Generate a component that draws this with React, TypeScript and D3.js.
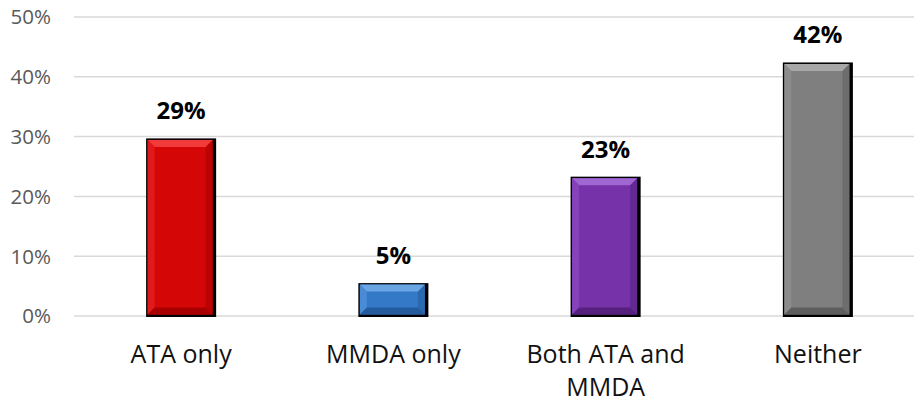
import React from "react";
import * as d3 from "d3";

const WIDTH = 914;
const HEIGHT = 403;

const categories = ["ATA only", "MMDA only", "Both ATA and MMDA", "Neither"];
const categoryLines = [["ATA only"], ["MMDA only"], ["Both ATA and", "MMDA"], ["Neither"]];
const values = [29.7, 5.5, 23.3, 42.4];
const valueLabels = ["29%", "5%", "23%", "42%"];
const ticks = [0, 10, 20, 30, 40, 50];

// main / light bevel / dark bevel
const palettes = [
  { main: "#d40606", light: "#f23a3a", side: "#e01a1a", dark: "#a80000" },
  { main: "#3479c8", light: "#6aa6e4", side: "#4a8bd6", dark: "#235b9c" },
  { main: "#7632a8", light: "#a066d2", side: "#8642bb", dark: "#56207f" },
  { main: "#7f7f7f", light: "#a8a8a8", side: "#8c8c8c", dark: "#5e5e5e" },
];

const FONT = "'Open Sans', 'DejaVu Sans', sans-serif";

function Bar({ x0, x1, y0, y1, pal }) {
  const b = 7;
  const l = x0 + 1.5;
  const r = x1 - 3.5;
  const t = y0 + 1.5;
  const bo = y1 - 2.5;
  return (
    <g>
      <rect x={x0} y={y0} width={x1 - x0} height={y1 - y0} fill="#000" />
      <rect x={l} y={t} width={r - l} height={bo - t} fill={pal.main} />
      <polygon points={`${l},${t} ${r},${t} ${r - b},${t + b} ${l + b},${t + b}`} fill={pal.light} />
      <polygon points={`${l},${t} ${l + b},${t + b} ${l + b},${bo - b} ${l},${bo}`} fill={pal.side} />
      <polygon points={`${r},${t} ${r},${bo} ${r - b},${bo - b} ${r - b},${t + b}`} fill={pal.dark} opacity={0.55} />
      <polygon points={`${l},${bo} ${l + b},${bo - b} ${r - b},${bo - b} ${r},${bo}`} fill={pal.dark} />
    </g>
  );
}

export default function App() {
  const x = d3.scaleBand().domain(categories).range([75, 924]).padding(0);
  const y = d3.scaleLinear().domain([0, 50]).range([316, 17]);
  const barW = x.bandwidth() * 0.33;

  return (
    <svg width={WIDTH} height={HEIGHT} style={{ position: "absolute", left: 0, top: 0, background: "#fff" }}>
      {ticks.map((t) => (
        <g key={t}>
          <line x1={74} x2={924} y1={y(t)} y2={y(t)} stroke="#d9d9d9" strokeWidth={1.5} />
          <text
            x={51}
            y={y(t)}
            dy="0.36em"
            textAnchor="end"
            fontFamily={FONT}
            fontSize={20.5}
            fill="#595959"
          >
            {t}%
          </text>
        </g>
      ))}

      {categories.map((c, i) => {
        const cx = x(c) + x.bandwidth() / 2;
        const x0 = cx - barW / 2;
        const x1 = cx + barW / 2;
        return (
          <g key={c}>
            <Bar x0={x0} x1={x1} y0={y(values[i])} y1={y(0) + 1} pal={palettes[i]} />
            <text
              x={cx}
              y={y(values[i]) - 19}
              textAnchor="middle"
              fontFamily={FONT}
              fontWeight="bold"
              fontSize={24}
              fill="#000"
            >
              {valueLabels[i]}
            </text>
            {categoryLines[i].map((ln, j) => (
              <text
                key={j}
                x={cx}
                y={363 + j * 33}
                textAnchor="middle"
                fontFamily={FONT}
                fontSize={25}
                fill="#111"
              >
                {ln}
              </text>
            ))}
          </g>
        );
      })}
    </svg>
  );
}
